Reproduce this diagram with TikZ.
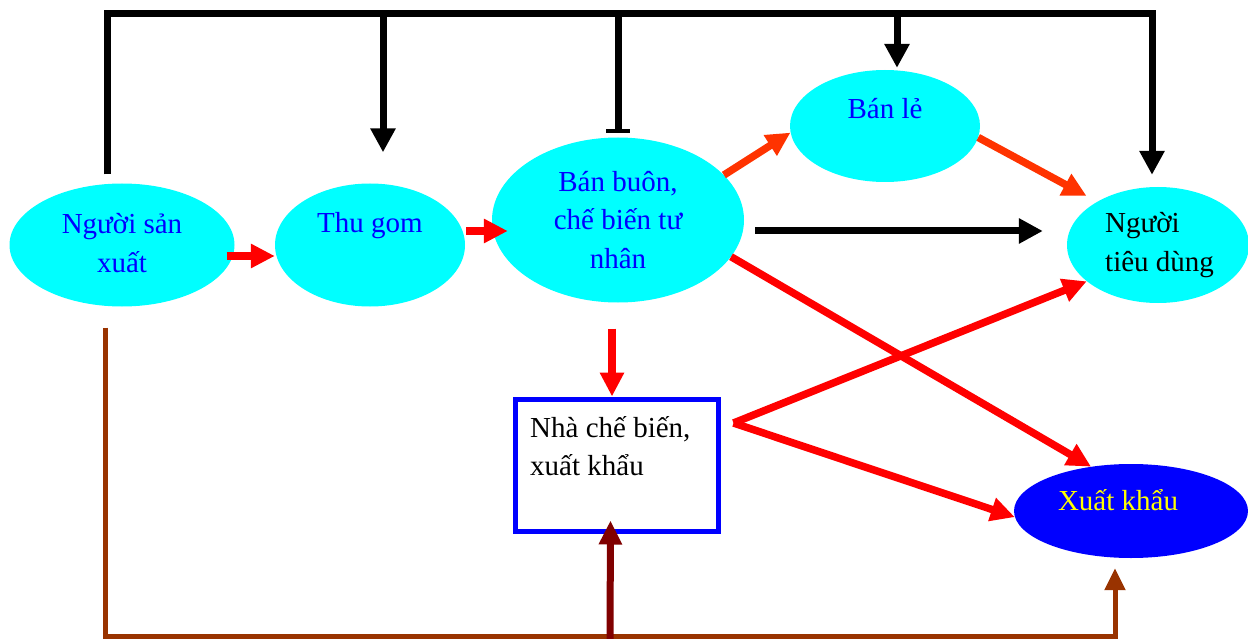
\documentclass[tikz,border=0pt]{standalone}
\usepackage{fontspec}
\setmainfont{Liberation Serif}
\usetikzlibrary{arrows.meta,shapes.geometric,calc}
\definecolor{cy}{HTML}{00FFFF}
\definecolor{bl}{HTML}{0000FF}
\definecolor{yl}{HTML}{FFFF00}
\definecolor{rd}{HTML}{FF0000}
\definecolor{orr}{HTML}{FF3300}
\definecolor{brn}{HTML}{993300}
\definecolor{drd}{HTML}{800000}
\tikzset{
  ell/.style={ellipse, fill=cy, draw=none, inner sep=0pt},
  txt/.style={font=\fontsize{29}{38.5}\selectfont, inner sep=0pt},
  blk/.style={draw=black, line width=7pt},
  blkarr/.style={blk, -{Triangle[length=24pt,width=24pt]}},
  redarr/.style={draw=rd, line width=7.5pt, -{Triangle[length=24pt,width=23pt]}},
  orarr/.style={draw=orr, line width=7.5pt, -{Triangle[length=24pt,width=23pt]}},
  brnline/.style={draw=brn, line width=5pt},
}
\begin{document}
\begin{tikzpicture}[x=1pt,y=-1pt]
\useasboundingbox (0,0) rectangle (1248,639);
% ellipses
\node[ell, minimum width=225pt, minimum height=123pt] (nsx) at (122,245) {};
\node[ell, minimum width=190pt, minimum height=123pt] (tg) at (370,245) {};
\node[ell, minimum width=252pt, minimum height=165pt] (bb) at (618,220) {};
\node[ell, minimum width=190pt, minimum height=112pt] (ble) at (885,126) {};
\node[ell, minimum width=182pt, minimum height=116pt] (ntd) at (1158,245) {};
\node[ellipse, fill=bl, inner sep=0pt, minimum width=234pt, minimum height=94pt] (xk) at (1131,511) {};
\node[draw=bl, line width=5pt, fill=white, minimum width=203pt, minimum height=132pt, inner sep=0pt] (box) at (616.5,465) {};
% texts
\node[txt, text=bl, align=center] (tnsx) at (122,243) {Người sản\\xuất};
\node[txt, text=bl] (ttg) at (370,226) {Thu gom};
\node[txt, text=bl, align=center] (tbb) at (618,220) {Bán buôn,\\chế biến tư\\nhân};
\node[txt, text=bl] (tble) at (885,109) {Bán lẻ};
\node[txt, align=left, anchor=west] (tntd) at (1105,245) {Người\\tiêu dùng};
\node[txt, align=left, anchor=west] (tbox) at (530,446) {Nhà chế biến,\\xuất khẩu};
\node[txt, text=yl] (txk) at (1118,500) {Xuất khẩu};
% black frame
\coordinate (tl) at (107,14);
\coordinate (tr) at (1152,14);
\coordinate (j1) at (383,14);
\coordinate (j2) at (618,14);
\coordinate (j3) at (897,14);
\draw[blkarr] ([xshift=-15pt,yshift=9pt]nsx.north) -- (tl) -- (tr) -- ([xshift=-6pt,yshift=12pt]ntd.north);
\draw[blkarr] (j1) -- ([xshift=13pt,yshift=31pt]tg.north);
\draw[blk, -{Rectangle[length=4pt,width=24pt]}] (j2) -- ([yshift=4pt]bb.north);
\draw[blkarr] (j3) -- ([xshift=12pt,yshift=2pt]ble.north);
\draw[blkarr] ([xshift=11pt,yshift=-11pt]bb.east) -- ([xshift=-24pt,yshift=14pt]ntd.west);
% red flow
\draw[redarr] ([xshift=-8pt,yshift=-11pt]nsx.east) -- ([yshift=-11pt]tg.west);
\draw[redarr] ([xshift=1pt,yshift=14pt]tg.east) -- ([xshift=16pt,yshift=-11pt]bb.west);
\draw[orarr] (bb.23) -- (ble.184);
\draw[orarr] (ble.-7) -- ([xshift=-10pt,yshift=6pt]ntd.145);
\draw[redarr] (bb.-18) -- (xk.132);
\draw[redarr] ([xshift=-6pt,yshift=-26pt]bb.south) -- ([xshift=-4.5pt]box.north);
\coordinate (v) at ([xshift=13pt,yshift=42pt]box.east);
\draw[redarr] (v) -- (ntd.207);
\draw[redarr] (v) -- (xk.183);
% brown frame
\draw[brnline, -{Triangle[length=22pt,width=20pt]}] ([xshift=-17pt,yshift=-21pt]nsx.south) -- (105,636) -- (1115,636) -- ([xshift=-16pt,yshift=-10pt]xk.south);
\coordinate (db) at (610,639);
\draw[draw=drd, line width=7pt, -{Triangle[length=24pt,width=22pt]}] (db) -- ([xshift=-6pt,yshift=13pt]box.south);
\end{tikzpicture}
\end{document}
